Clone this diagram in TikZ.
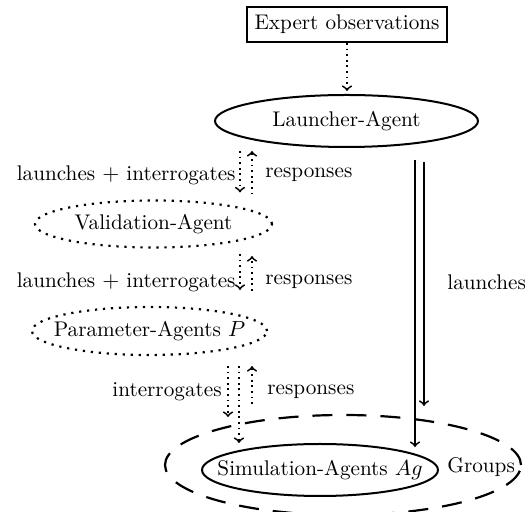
\documentclass[tikz,border=0pt]{standalone}
\usetikzlibrary{shapes.geometric}
\begin{document}
\begin{tikzpicture}[x=0.5pt,y=-0.5pt,
  every node/.style={font=\fontsize{10.6}{12}\selectfont},
  ell/.style={ellipse, draw, line width=1pt, inner sep=0pt},
  dotell/.style={ellipse, draw, line width=1.1pt, dash pattern=on 1.1pt off 2.9pt, inner sep=0pt},
  dotarr/.style={->, line width=0.9pt, dash pattern=on 0.9pt off 1.9pt},
  solarr/.style={->, line width=0.9pt},
  lbl/.style={inner sep=0pt}]
\useasboundingbox (0,0) rectangle (525,512);
% nodes
\node[draw, line width=1pt, minimum width=100pt, minimum height=17.5pt, inner sep=0pt] (expert) at (347,24.5) {Expert observations};
\node[ell, minimum width=131.5pt, minimum height=26pt] (launcher) at (346.5,121) {Launcher-Agent};
\node[dotell, minimum width=118.5pt, minimum height=23.5pt] (valid) at (153.5,224) {};
\node[lbl] (validtxt) at (valid.center) {Validation-Agent};
\node[dotell, minimum width=117.5pt, minimum height=24pt] (param) at (149.5,331) {};
\node[lbl] (paramtxt) at (param.center) {Parameter-Agents $P$};
\node[ellipse, draw, line width=1.1pt, dash pattern=on 10pt off 7pt, minimum width=178pt, minimum height=50pt, inner sep=0pt] (groups) at (343,465) {};
\node[ell, minimum width=118pt, minimum height=26pt] (sim) at (320,470) {};
\node[lbl] (simtxt) at (sim.center) {Simulation-Agents $Ag$};
\node[lbl, anchor=west] (grouplbl) at (447,467) {Groups};
% column coordinates
\coordinate (cA) at (347,0);
\coordinate (cB) at (240,0);
\coordinate (cC) at (252,0);
\coordinate (cD) at (228,0);
\coordinate (cE) at (239,0);
\coordinate (cF) at (415,0);
\coordinate (cG) at (424,0);
% connectors
\draw[dotarr, shorten >=1.5pt] (expert.south -| cA) -- (launcher.north -| cA);
\draw[dotarr, shorten <=1.5pt, shorten >=3.5pt] (launcher.south -| cB) -- (valid.north -| cB);
\draw[dotarr, shorten <=2.5pt, shorten >=1.5pt] (valid.north -| cC) -- (launcher.south -| cC);
\draw[dotarr, shorten <=2.75pt, shorten >=8pt] (valid.south -| cB) -- (param.north -| cB);
\draw[dotarr, shorten <=7.5pt, shorten >=3.75pt] (param.north -| cC) -- (valid.south -| cC);
\draw[dotarr, shorten <=5pt, shorten >=13pt] (param.south -| cD) -- (sim.north -| cD);
\draw[dotarr, shorten <=5pt] (param.south -| cE) -- (sim.north -| cE);
\draw[dotarr, shorten <=19.5pt, shorten >=5pt] (sim.north -| cC) -- (param.south -| cC);
\draw[solarr, shorten <=6pt, shorten >=-2pt] (launcher.south -| cF) -- (sim.north -| cF);
\draw[solarr, shorten <=7pt, shorten >=4pt] (launcher.south -| cG) -- (groups.north -| cG);
% labels
\node[lbl, anchor=east] (l1) at (236,175) {launches $+$ interrogates};
\node[lbl, anchor=west] (r1) at (265,175) {responses};
\node[lbl, anchor=east] (l2) at (236,282) {launches $+$ interrogates};
\node[lbl, anchor=west] (r2) at (265,282) {responses};
\node[lbl, anchor=east] (l3) at (222,392) {interrogates};
\node[lbl, anchor=west] (r3) at (267,392) {responses};
\node[lbl, anchor=west] (l4) at (447,282) {launches};
\end{tikzpicture}
\end{document}
